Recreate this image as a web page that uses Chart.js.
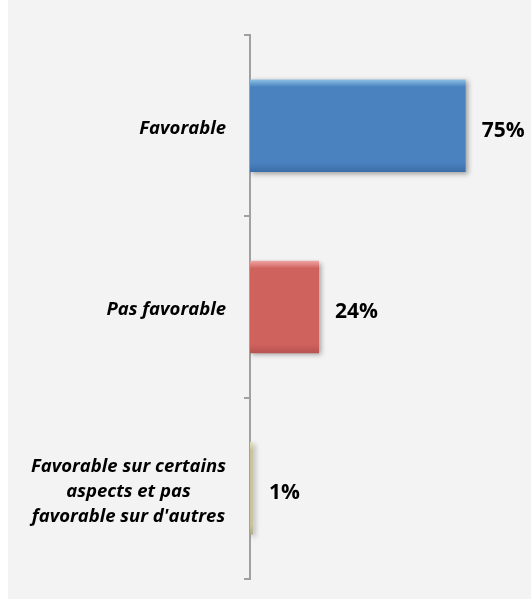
<!DOCTYPE html>
<html>
<head>
<meta charset="utf-8">
<script src="https://cdn.jsdelivr.net/npm/chart.js@4"></script>
<style>
html,body{margin:0;padding:0;background:#ffffff;}
#wrap{position:absolute;left:0;top:0;width:531px;height:599px;}
#bg{position:absolute;left:8px;top:0;width:523px;height:599px;background:#f3f3f3;}
canvas{position:absolute;left:0;top:0;}
</style>
</head>
<body>
<div id="wrap"><div id="bg"></div><canvas id="c" width="531" height="599"></canvas></div>
<script>
const categories = [
  ['Favorable'],
  ['Pas favorable'],
  ['Favorable sur certains', 'aspects et pas', "favorable sur d'autres"]
];
const values = [75, 24, 1];
const valueLabels = ['75%', '24%', '1%'];
const barColors = ['#4a82c0', '#d0625e', '#c9c39a'];
const barTopColors = ['#8cc0e4', '#eea3a0', '#e6e1bd'];
const barBottomColors = ['#3b6ea8', '#b85450', '#b0aa84'];

function barGradient(ctx) {
  const chart = ctx.chart;
  const i = ctx.dataIndex;
  const y = chart.scales.y;
  if (!y || !chart.chartArea) return barColors[i];
  const c = y.getPixelForValue(i);
  const half = 46;
  const g = chart.ctx.createLinearGradient(0, c - half, 0, c + half);
  g.addColorStop(0, barTopColors[i]);
  g.addColorStop(0.08, barColors[i]);
  g.addColorStop(0.9, barColors[i]);
  g.addColorStop(1, barBottomColors[i]);
  return g;
}

const shadowPlugin = {
  id: 'shadow',
  beforeDatasetsDraw(chart) {
    const ctx = chart.ctx;
    ctx.save();
    ctx.shadowColor = 'rgba(0,0,0,0.35)';
    ctx.shadowBlur = 5;
    ctx.shadowOffsetX = 2;
    ctx.shadowOffsetY = 2;
  },
  afterDatasetsDraw(chart) {
    chart.ctx.restore();
  }
};

// Category labels: block right-aligned near the axis, lines centred within the block
const categoryLabelPlugin = {
  id: 'categoryLabels',
  afterDraw(chart) {
    const ctx = chart.ctx;
    const yScale = chart.scales.y;
    const right = chart.chartArea.left - 24;
    const lineH = 25;
    ctx.save();
    ctx.font = 'italic bold 18.5px "Open Sans"';
    ctx.fillStyle = '#000000';
    ctx.textAlign = 'center';
    ctx.textBaseline = 'middle';
    categories.forEach((lines, i) => {
      const cy = yScale.getPixelForValue(i) + 3;
      const w = Math.max(...lines.map(l => ctx.measureText(l).width));
      const cx = right - w / 2;
      const y0 = cy - (lines.length - 1) * lineH / 2;
      lines.forEach((l, k) => ctx.fillText(l, cx, y0 + k * lineH));
    });
    ctx.restore();
  }
};

const valueLabelPlugin = {
  id: 'valueLabels',
  afterDraw(chart) {
    const ctx = chart.ctx;
    const meta = chart.getDatasetMeta(0);
    ctx.save();
    ctx.font = 'bold 21px "Open Sans"';
    ctx.fillStyle = '#000000';
    ctx.textAlign = 'left';
    ctx.textBaseline = 'middle';
    meta.data.forEach((bar, i) => {
      ctx.fillText(valueLabels[i], bar.x + 16, bar.y + 5);
    });
    ctx.restore();
  }
};

new Chart(document.getElementById('c'), {
  type: 'bar',
  data: {
    labels: categories,
    datasets: [{
      data: values,
      backgroundColor: barGradient,
      borderWidth: 0,
      categoryPercentage: 1.0,
      barPercentage: 0.51
    }]
  },
  options: {
    indexAxis: 'y',
    responsive: false,
    animation: false,
    events: [],
    layout: { padding: { top: 35, bottom: 20, left: 0, right: 51 } },
    plugins: { legend: { display: false }, tooltip: { enabled: false } },
    scales: {
      x: { display: false, min: 0, max: 80 },
      y: {
        afterFit(scale) { scale.width = 250; scale.paddingTop = 0; scale.paddingBottom = 0; },
        grid: { offset: true, drawOnChartArea: false, drawTicks: true, tickLength: 6, color: '#a0a0a0', lineWidth: 2 },
        border: { display: true, color: '#a0a0a0', width: 2 },
        ticks: { display: false }
      }
    }
  },
  plugins: [shadowPlugin, categoryLabelPlugin, valueLabelPlugin]
});
</script>
</body>
</html>
